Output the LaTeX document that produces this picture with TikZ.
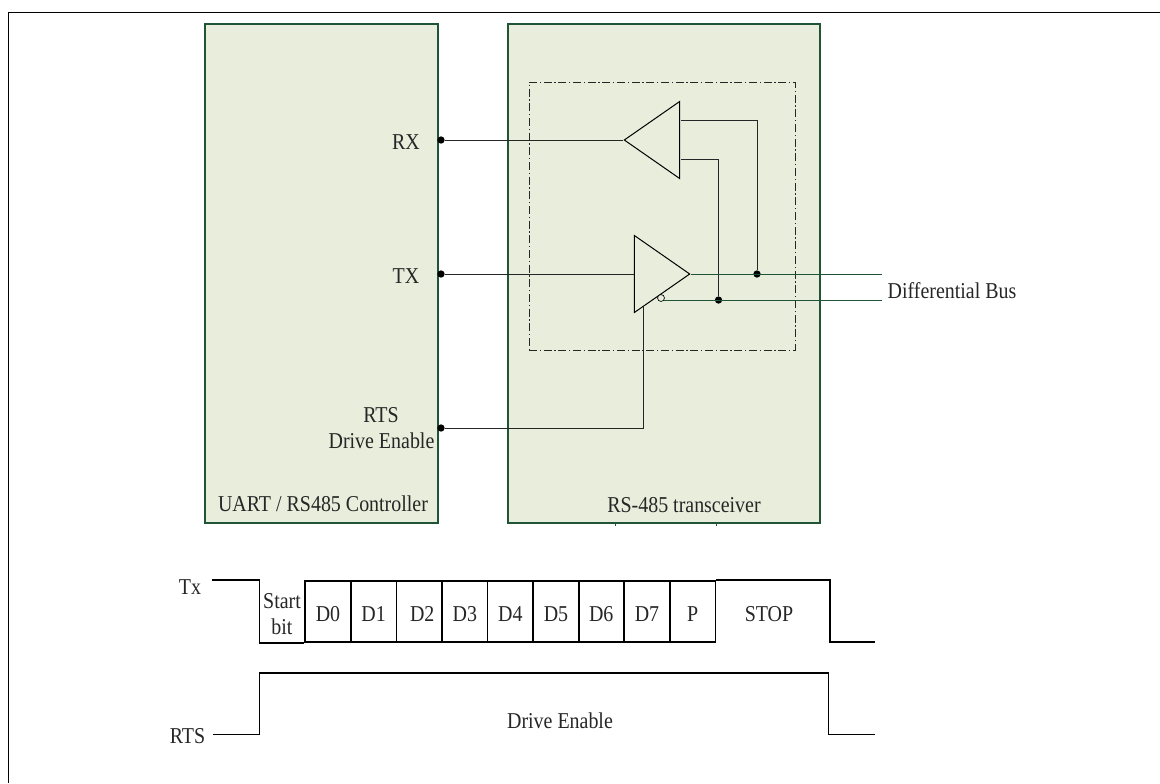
\documentclass[tikz,border=0pt]{standalone}
\usepackage{fontspec}
\setmainfont[FakeStretch=0.88]{Liberation Serif}
\usetikzlibrary{shapes.geometric}
\definecolor{colorBox}{HTML}{E9EDDC}
\definecolor{colorEdge}{HTML}{1F5436}
\tikzset{
   every path/.style={>=stealth},
   ctrlbox/.style={rectangle, draw=colorEdge, fill=colorBox, line width=1.5pt, inner sep=0pt},
   amp/.style={isosceles triangle, isosceles triangle stretches, draw=black, fill=colorBox, line width=0.75pt, inner sep=0pt, minimum width=57.75pt, minimum height=41.5pt},
   pin/.style={circle, fill=black, inner sep=0pt, minimum size=5.5pt},
   bubble/.style={circle, draw=black, fill=colorBox, line width=0.5pt, inner sep=0pt, minimum size=5.2pt},
   wire/.style={draw=black!85, line width=0.75pt},
   bus/.style={draw=colorEdge, line width=0.75pt},
   wave/.style={draw=black, line width=1.1pt},
   txt/.style={inner sep=0pt, anchor=base, font=\fontsize{17pt}{20pt}\selectfont, text=black!85},
   cell/.style={rectangle, draw=black, line width=1.1pt, inner sep=0pt, minimum width=34.2pt, minimum height=46pt, font=\fontsize{17pt}{20pt}\selectfont, text=black!85, text height=14.25pt, text depth=0pt},
}
\begin{document}
\begin{tikzpicture}[x=0.75pt,y=-0.75pt]
  \useasboundingbox (0,0) rectangle (1160,783);
  \coordinate (frameright) at (1160,12.5);
  \coordinate (framecorner) at (8.5,12.5);
  \coordinate (framebottom) at (8.5,783);
  \draw [black, line width=1pt] (frameright) -- (framecorner) -- (framebottom);

  \node [ctrlbox, minimum width=174.75pt, minimum height=374.25pt] (uart) at (321.5,273.5) {};
  \node [ctrlbox, minimum width=234pt, minimum height=374.25pt] (xcvr) at (664,273.5) {};
  \draw [colorEdge, line width=0.75pt] (615,523) -- ++(0,2.5);
  \draw [colorEdge, line width=0.75pt] (716,523) -- ++(0,2.5);
  \node [draw=black!85, line width=0.75pt, dash pattern=on 6pt off 2pt on 1pt off 2pt, inner sep=0pt, minimum width=199.5pt, minimum height=201pt] (inner) at (662,216) {};

  \node [amp, shape border rotate=180, anchor=apex] (rxamp) at (623,140) {};
  \node [amp, anchor=apex] (txamp) at (691,274) {};
  \node [bubble] (txinv) at (661,298) {};

  \node [pin] (rxpin) at (441,140) {};
  \node [pin] (txpin) at (441,274) {};
  \node [pin] (rtspin) at (441,428) {};
  \node [pin] (busapin) at (757,274) {};
  \node [pin] (busbpin) at (718.5,300) {};

  \coordinate (rxa) at (681,120.5);
  \coordinate (rxb) at (681,159);
  \coordinate (txen) at (643,305.5);
  \coordinate (busa) at (882,274);
  \coordinate (busb) at (882,300);

  \draw [wire] (rxpin) -- (rxamp.apex);
  \draw [wire] (txpin) -- (txamp.lower side);
  \draw [wire] (rtspin) -| (txen);
  \draw [wire] (rxa) -| (busapin);
  \draw [wire] (rxb) -| (busbpin);
  \draw [bus] (txamp.apex) -- (busa);
  \draw [bus] (txinv.-30 |- busb) -- (busb);

  \node [txt] (rxlabel) at (406,149) {RX};
  \node [txt] (txlabel) at (406,283) {TX};
  \node [txt] (rtslabel) at (381,422) {RTS};
  \node [txt] (enlabel) at (381.5,448) {Drive Enable};
  \node [txt] (uartlabel) at (323,511) {UART / RS485 Controller};
  \node [txt] (xcvrlabel) at (684,512) {RS-485 transceiver};
  \node [txt] (buslabel) at (952,298) {Differential Bus};

  % Tx frame
  \node [txt, anchor=center, align=center, font=\fontsize{17pt}{19.5pt}\selectfont] (startbit) at (282,614) {Start\\bit};
  \node [cell] (d0) at (328,611.5) {D0};
  \node [cell] (d1) at (373.6,611.5) {D1};
  \node [cell] (d2) at (419.2,611.5) {\hspace*{4.5pt}D2};
  \node [cell] (d3) at (464.8,611.5) {D3};
  \node [cell] (d4) at (510.4,611.5) {D4};
  \node [cell] (d5) at (556,611.5) {D5};
  \node [cell] (d6) at (601.2,611.5) {D6};
  \node [cell] (d7) at (647,611.5) {D7};
  \node [cell] (dp) at (692.6,611.5) {P};
  \node [txt] (stop) at (769,621) {STOP};
  \coordinate (txstart) at (212,580);
  \coordinate (txend) at (875,642);
  \draw [wave] (txstart) -- ++(47.5,0) |- (d0.south west);
  \draw [wave] (dp.north east) -- ++(113.7,0) |- (txend);
  \node [txt] (txname) at (190,594) {Tx};

  % RTS line
  \coordinate (rtsstart) at (213,734.5);
  \coordinate (rtsend) at (875,734.5);
  \draw [wave] (rtsstart) -- ++(46.5,0) -- ++(0,-61.5) -- ++(569.2,0) |- (rtsend);
  \node [txt] (rtsname) at (187.5,743) {RTS};
  \node [txt] (drive) at (560,728) {Drive Enable};
\end{tikzpicture}
\end{document}
